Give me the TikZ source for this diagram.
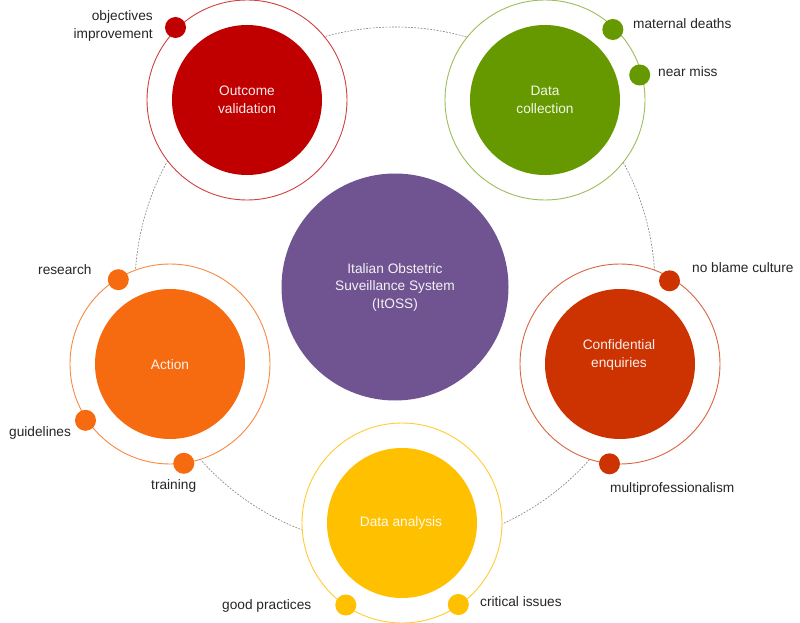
\documentclass[tikz,border=0pt]{standalone}
\usepackage{fontspec}
\setmainfont{Liberation Sans}
\definecolor{cRed}{HTML}{C00000}
\definecolor{cGreen}{HTML}{669900}
\definecolor{cOrange}{HTML}{F76B10}
\definecolor{cRust}{HTML}{CC3300}
\definecolor{cYellow}{HTML}{FFC000}
\definecolor{cPurple}{HTML}{6F5491}
\definecolor{cLabel}{HTML}{262626}
\definecolor{cOrbit}{HTML}{7F7F7F}
\begin{document}
\begin{tikzpicture}[x=1pt,y=-1pt,
  font=\fontsize{13.7}{17.5}\selectfont,
  orbit/.style={draw=cOrbit, line width=0.6pt, dash pattern=on 1.8pt off 1.4pt},
  ring/.style={circle, fill=white, draw=#1, line width=0.9pt, minimum size=200pt, inner sep=0pt},
  core/.style={circle, fill=#1, minimum size=150pt, inner sep=0pt},
  coretext/.style={text=white!92!#1, align=center, inner sep=0pt},
  dot/.style={circle, fill=#1, minimum size=21pt, inner sep=0pt},
  lbl/.style={text=cLabel, inner sep=0pt}]
\useasboundingbox[fill=white] (0,0) rectangle (800,623);

% orbit
\coordinate (c) at (395,287);
\draw[orbit] (c) circle (260);

% rings
\node[ring=cRed!75]    (rOV) at (247,100) {};
\node[ring=cGreen!65]  (rDC) at (545,100) {};
\node[ring=cOrange!80] (rAC) at (170,364) {};
\node[ring=cRust!75]   (rCE) at (620,364) {};
\node[ring=cYellow!80] (rDA) at (402,523) {};

% cores
\node[core=cRed]    (cOV) at (rOV) {};
\node[core=cGreen]  (cDC) at (rDC) {};
\node[core=cOrange] (cAC) at (rAC) {};
\node[core=cRust]   (cCE) at (rCE) {};
\node[core=cYellow] (cDA) at (rDA) {};
\node[circle, fill=cPurple, minimum size=227pt, inner sep=0pt] (center) at (c) {};

% core texts
\node[coretext=cRed]    (tOV) at (247,100) {Outcome\\validation};
\node[coretext=cGreen]  (tDC) at (545,100) {Data\\collection};
\node[coretext=cOrange] (tAC) at (170,365) {Action};
\node[coretext=cRust]   (tCE) at (619,355) {Confidential\\enquiries};
\node[coretext=cYellow] (tDA) at (401,523) {Data analysis};
\node[coretext=cPurple] (tC)  at (395,287) {Italian Obstetric\\Suveillance System\\(ItOSS)};

% dots
\node[dot=cRed]    (dObj)  at (175.5,27.5) {};
\node[dot=cGreen]  (dMat)  at (612.8,29.5) {};
\node[dot=cGreen]  (dNear) at (639.7,75) {};
\node[dot=cOrange] (dRes)  at (118.3,279.7) {};
\node[dot=cOrange] (dGui)  at (85.5,420.3) {};
\node[dot=cOrange] (dTra)  at (183.8,463.3) {};
\node[dot=cRust]   (dNoB)  at (669.5,280.8) {};
\node[dot=cRust]   (dMul)  at (609.5,463.8) {};
\node[dot=cYellow] (dGoo)  at (345.8,605) {};
\node[dot=cYellow] (dCri)  at (458.3,604.5) {};

% labels
\node[lbl, align=right, anchor=east] (lObj) at (153,26) {objectives\\improvement};
\node[lbl, anchor=west] (lMat) at (633,24) {maternal deaths};
\node[lbl, anchor=west] (lNear) at (658,72) {near miss};
\node[lbl, anchor=west] (lRes) at (38,270) {research};
\node[lbl, anchor=west] (lGui) at (9,433) {guidelines};
\node[lbl, anchor=west] (lTra) at (151,486) {training};
\node[lbl, anchor=west] (lNoB) at (692,268) {no blame culture};
\node[lbl, anchor=west] (lMul) at (610,489) {multiprofessionalism};
\node[lbl, anchor=west] (lGoo) at (222,606) {good practices};
\node[lbl, anchor=west] (lCri) at (480,602) {critical issues};
\end{tikzpicture}
\end{document}
